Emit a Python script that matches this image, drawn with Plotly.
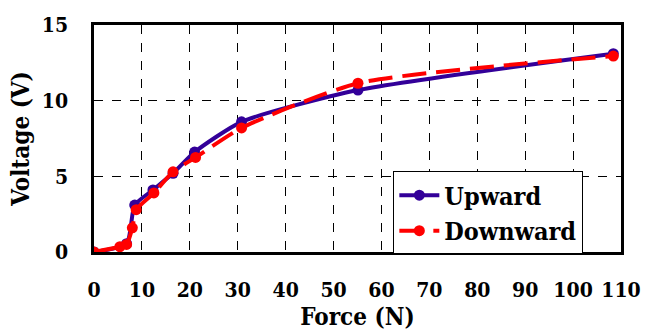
import plotly.graph_objects as go

force_up = [0, 6.8, 8.5, 12.3, 16.5, 21.0, 30.8, 55.1, 108.4]
volt_up = [0, 0.55, 3.1, 4.1, 5.2, 6.6, 8.6, 10.7, 13.1]

force_down = [0, 5.4, 6.8, 8.0, 8.8, 12.5, 16.5, 21.2, 30.8, 55.1, 108.4]
volt_down = [0, 0.35, 0.5, 1.6, 2.8, 3.9, 5.3, 6.25, 8.2, 11.15, 12.95]

x_ticks = list(range(0, 111, 10))
y_ticks = [0, 5, 10, 15]

serif = "DejaVu Serif Condensed, DejaVu Serif"

fig = go.Figure()
fig.add_trace(go.Scatter(
    x=force_up, y=volt_up, name="Upward", mode="lines+markers",
    line=dict(color="#330099", width=4, shape="spline", smoothing=0.6),
    marker=dict(color="#330099", size=11),
))
fig.add_trace(go.Scatter(
    x=force_down, y=volt_down, name="Downward", mode="lines+markers",
    line=dict(color="#FF0000", width=4, shape="spline", smoothing=0.6, dash="24px,10px"),
    marker=dict(color="#FF0000", size=11),
))

axis_common = dict(
    showgrid=True, gridcolor="black", griddash="dash", gridwidth=1,
    showline=True, linecolor="black", linewidth=2.5, mirror=True,
    ticks="", zeroline=False, automargin=False,
    tickfont=dict(family=serif, size=21, color="black", weight="bold"),
)

fig.update_xaxes(
    range=[0, 110], tickvals=x_ticks,
    ticklabelstandoff=17,
    title=dict(text="Force (N)", font=dict(family=serif, size=24, color="black", weight="bold"), standoff=8),
    **axis_common,
)
fig.update_yaxes(
    range=[0, 15], tickvals=y_ticks,
    ticklabelstandoff=19,
    title=dict(text="Voltage (V)", font=dict(family=serif, size=24, color="black", weight="bold"), standoff=6),
    **axis_common,
)

fig.update_layout(
    width=647, height=336,
    margin=dict(l=94, r=26, t=25, b=84, autoexpand=False),
    plot_bgcolor="white", paper_bgcolor="white",
    legend=dict(
        x=0.568, y=0.355, xanchor="left", yanchor="top",
        bgcolor="white", bordercolor="black", borderwidth=1,
        font=dict(family=serif, size=25, color="black", weight="bold"),
        tracegroupgap=0, itemwidth=40,
    ),
)

fig.write_html("out.html")
